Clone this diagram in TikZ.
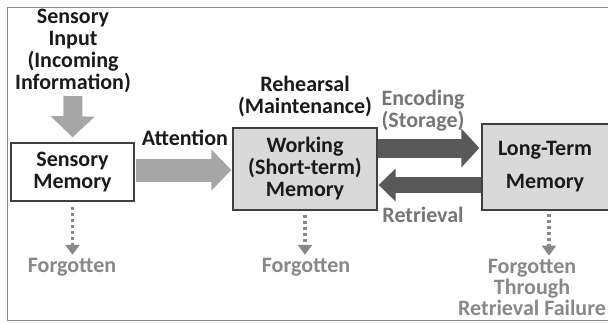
\documentclass[tikz,border=0pt]{standalone}
\usepackage{fontspec}
\setmainfont{Carlito}
\usetikzlibrary{arrows.meta}
\definecolor{txt}{HTML}{1A1A1A}
\definecolor{graytxt}{HTML}{767676}
\definecolor{fgtxt}{HTML}{888888}
\definecolor{lightarr}{HTML}{A6A6A6}
\definecolor{darkarr}{HTML}{595959}
\definecolor{boxfill}{HTML}{D9D9D9}
\definecolor{boxline}{HTML}{404040}
\definecolor{frame}{HTML}{8A8A8A}
\tikzset{
  lbl/.style={font=\bfseries\fontsize{22}{22}\selectfont, text=txt, align=center, inner sep=0pt},
  glbl/.style={lbl, text=graytxt},
  flbl/.style={lbl, text=fgtxt, font=\bfseries\fontsize{22}{21}\selectfont},
  membox/.style={draw=boxline, line width=1.3pt, inner sep=0pt, align=center, text=txt, font=\bfseries\fontsize{22}{22}\selectfont},
  dotarrow/.style={draw=fgtxt, line width=3.5pt, dash pattern=on 3.5pt off 2.5pt, -{Triangle[length=10pt,width=14pt]}},
}
\begin{document}
\begin{tikzpicture}[x=1pt,y=1pt]
\useasboundingbox (0,0) rectangle (608,322);
\begin{scope}
\clip (0,0) rectangle (608,322);
% frame
\draw[frame, line width=1pt] (7.5,1.5) rectangle (640,314.5);
% boxes
\node[membox, fill=white, minimum width=123pt, minimum height=58pt] (sm) at (72.5,150) {Sensory\\Memory};
\node[membox, fill=boxfill, minimum width=144pt, minimum height=82pt] (wm) at (305,153) {Working\\(Short-term)\\Memory};
\node[membox, fill=boxfill, minimum width=140pt, minimum height=86pt, font=\bfseries\fontsize{22}{33}\selectfont] (ltm) at (552,155) {\hspace*{-14pt}Long-Term\\\hspace*{-14pt}Memory};
\end{scope}
% labels
\node[lbl] (in) at (73,271) {Sensory\\Input\\(Incoming\\Information)};
\node[lbl] (att) at (185,184) {Attention};
\node[lbl] (reh) at (305,226) {Rehearsal\\(Maintenance)};
\node[glbl] (enc) at (423,211) {Encoding\\(Storage)};
\node[glbl] (ret) at (423,107) {Retrieval};
\node[flbl] (f1) at (72,55) {Forgotten};
\node[flbl] (f2) at (306,55) {Forgotten};
\node[flbl] (f3) at (532,35) {Forgotten\\Through\\Retrieval Failure};
% fat arrows
\draw[line width=19pt, draw=lightarr, -{Triangle[length=21pt,width=43pt]}, shorten <=3pt, shorten >=5pt] (in.south) -- (sm.north);
\draw[line width=23pt, draw=lightarr, -{Triangle[length=20pt,width=40pt]}, shorten <=1pt, shorten >=1pt] (sm.east |- 0,152) -- (wm.west |- 0,152);
\draw[line width=19pt, draw=darkarr, -{Triangle[length=18pt,width=38pt]}, shorten >=2pt] (wm.east |- 0,174) -- (ltm.west |- 0,174);
\draw[line width=16pt, draw=darkarr, -{Triangle[length=17pt,width=32pt]}, shorten >=1pt] (ltm.west |- 0,137) -- (wm.east |- 0,137);
% dotted arrows
\draw[dotarrow, shorten <=5pt, shorten >=3pt] (sm.south) -- (sm.south |- f1.north);
\draw[dotarrow, shorten <=4pt, shorten >=3pt] (wm.south) -- (wm.south |- f2.north);
\draw[dotarrow, shorten <=3pt, shorten >=3pt] (ltm.south -| 549,0) -- (549,0 |- f3.north);
\end{tikzpicture}
\end{document}
